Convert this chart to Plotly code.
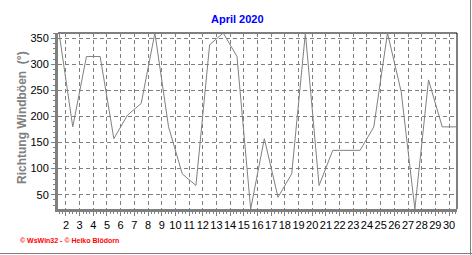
import plotly.graph_objects as go

# ---- data ----
days = list(range(1, 31))
direction = [360, 180, 315, 315, 157.5, 202.5, 225, 360, 180, 90,
             67.5, 337.5, 360, 315, 22.5, 157.5, 45, 90, 360, 67.5,
             135, 135, 135, 180, 360, 247.5, 22.5, 270, 180, 180]
x_ticks = list(range(2, 31))
x_labels = [str(d) for d in x_ticks]
y_ticks = [50, 100, 150, 200, 250, 300, 350]

title_text = "April 2020"
y_title = "Richtung Windböen \u00a0(°)"
footer = "© WsWin32 - © Heiko Blödorn"

W, H = 472, 255
ML, MR, MT, MB = 58, 15, 33, 46
pw, ph = W - ML - MR, H - MT - MB

GRAY = "#808080"

fig = go.Figure()
fig.add_trace(go.Scatter(
    x=[d + 0.5 for d in days], y=direction, mode="lines",
    line=dict(color=GRAY, width=1), hoverinfo="skip", showlegend=False,
))

fig.update_layout(
    width=W, height=H,
    margin=dict(l=ML, r=MR, t=MT, b=MB, pad=0),
    paper_bgcolor="white", plot_bgcolor="white",
    font=dict(family="Liberation Sans, Arial", size=11, color="black"),
    showlegend=False,
)

fig.update_xaxes(
    range=[1.42, 30.58], tickmode="array", tickvals=x_ticks, ticktext=x_labels,
    tickangle=0,
    showgrid=True, gridcolor=GRAY, gridwidth=1, griddash="4px,3px",
    showline=True, linecolor=GRAY, linewidth=3,
    ticks="outside", ticklen=4, tickcolor=GRAY, tickwidth=1,
    minor=dict(dtick=0.25, tick0=0, ticks="outside", ticklen=2, tickcolor=GRAY, showgrid=False),
    tickfont=dict(size=11, color="black"), zeroline=False, fixedrange=True,
)
fig.update_yaxes(
    range=[22.5, 360], tickmode="array", tickvals=y_ticks,
    showgrid=True, gridcolor=GRAY, gridwidth=1, griddash="4px,3px",
    showline=True, linecolor=GRAY, linewidth=3,
    ticks="outside", ticklen=4, tickcolor=GRAY, tickwidth=1,
    minor=dict(dtick=10, tick0=0, ticks="outside", ticklen=2, tickcolor=GRAY, showgrid=False),
    tickfont=dict(size=11, color="black"), zeroline=False, fixedrange=True,
)

def px2paper_x(px):
    return (px - ML) / pw

def px2paper_y(py):
    return (H - MB - py) / ph

# top and right plot border
fig.add_shape(type="line", xref="paper", yref="paper", x0=0, x1=1, y0=1, y1=1,
              line=dict(color="black", width=1), layer="below")
fig.add_shape(type="line", xref="paper", yref="paper", x0=1, x1=1, y0=0, y1=1,
              line=dict(color="black", width=1), layer="below")
# outer frame (right & bottom)
fig.add_shape(type="line", xref="paper", yref="paper",
              x0=px2paper_x(0), x1=px2paper_x(W), y0=px2paper_y(253.5), y1=px2paper_y(253.5),
              line=dict(color=GRAY, width=1))
fig.add_shape(type="line", xref="paper", yref="paper",
              x0=px2paper_x(470.5), x1=px2paper_x(470.5), y0=px2paper_y(0), y1=px2paper_y(H),
              line=dict(color=GRAY, width=1))

fig.add_annotation(text="<b>" + title_text + "</b>", xref="paper", yref="paper",
                   x=px2paper_x(237), y=px2paper_y(19), showarrow=False,
                   font=dict(size=11, color="#0000FF"), xanchor="center", yanchor="middle")
fig.add_annotation(text="<b>" + y_title + "</b>", xref="paper", yref="paper",
                   x=px2paper_x(22), y=px2paper_y(118), showarrow=False, textangle=-90,
                   font=dict(size=12, color=GRAY), xanchor="center", yanchor="middle")
fig.add_annotation(text="<b>" + footer + "</b>", xref="paper", yref="paper",
                   x=px2paper_x(18), y=px2paper_y(240), showarrow=False,
                   font=dict(size=7, color="#FF0000"), xanchor="left", yanchor="middle")

fig.write_html("out.html", config=dict(displayModeBar=False))
